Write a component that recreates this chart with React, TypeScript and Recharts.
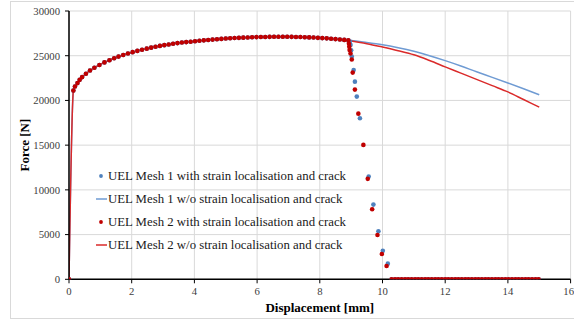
import React from 'react';
import { LineChart, Line, XAxis, YAxis, CartesianGrid } from 'recharts';

// Shared loading branch (all four analyses coincide up to ~8.9 mm)
const risingDisp = [
  0, 0.14, 0.19, 0.27, 0.34, 0.42, 0.54, 0.67, 0.81, 0.97, 1.13, 1.29, 1.44, 1.58, 1.73, 1.88,
  2.03, 2.18, 2.33, 2.48, 2.62, 2.76, 2.9, 3.04, 3.18, 3.32, 3.46, 3.6, 3.74, 3.88, 4.02, 4.16,
  4.3, 4.44, 4.58, 4.72, 4.86, 5.0, 5.14, 5.28, 5.42, 5.56, 5.7, 5.84, 5.98, 6.12, 6.26, 6.4,
  6.54, 6.68, 6.82, 6.96, 7.1, 7.24, 7.38, 7.52, 7.66, 7.8, 7.94, 8.08, 8.22, 8.36, 8.5, 8.64,
  8.78, 8.91,
];
const risingForce = [
  0, 21100, 21560, 21940, 22300, 22610, 22980, 23350, 23650, 23960, 24250, 24500, 24720, 24900, 25080, 25250,
  25400, 25540, 25670, 25790, 25900, 26000, 26100, 26180, 26260, 26340, 26410, 26470, 26520, 26570, 26620, 26670,
  26720, 26760, 26800, 26840, 26880, 26920, 26950, 26980, 27000, 27020, 27040, 27060, 27080, 27090, 27100, 27110,
  27120, 27120, 27120, 27120, 27110, 27100, 27090, 27070, 27050, 27030, 27000, 26970, 26940, 26900, 26860, 26820,
  26770, 26710,
];

// Mesh 1 with strain localisation and crack: drop
const mesh1DropDisp = [8.96, 8.98, 9.0, 9.02, 9.08, 9.12, 9.18, 9.28, 9.56, 9.71, 9.87, 10.01, 10.17];
const mesh1DropForce = [26580, 26210, 25600, 24900, 23410, 22100, 20430, 18010, 11490, 8350, 5370, 3200, 1750];

// Mesh 2 with strain localisation and crack: drop
const mesh2DropDisp = [8.93, 8.94, 8.95, 8.98, 9.02, 9.05, 9.12, 9.23, 9.39, 9.53, 9.67, 9.84, 9.98, 10.13];
const mesh2DropForce = [26340, 26000, 25630, 25250, 24570, 23110, 21210, 18520, 15030, 11230, 7840, 4960, 2830, 1490];

// After full fracture
const crackTailDisp = [
  10.29, 10.4, 10.5, 10.61, 10.72, 10.82, 10.93, 11.04, 11.14, 11.25, 11.36, 11.46, 11.57, 11.68, 11.78,
  11.89, 12.0, 12.1, 12.21, 12.32, 12.42, 12.53, 12.64, 12.74, 12.85, 12.96, 13.06, 13.17, 13.28, 13.38,
  13.49, 13.6, 13.7, 13.81, 13.92, 14.02, 14.13, 14.24, 14.34, 14.45, 14.56, 14.66, 14.77, 14.88, 14.98,
];
const crackTailForce = [
  0, 0, 0, 0, 0, 0, 0, 0, 0, 0, 0, 0, 0, 0, 0,
  0, 0, 0, 0, 0, 0, 0, 0, 0, 0, 0, 0, 0, 0, 0,
  0, 0, 0, 0, 0, 0, 0, 0, 0, 0, 0, 0, 0, 0, 0,
];

// w/o strain localisation and crack: softening tails
const noCrackTailDisp = [9.0, 9.5, 10.0, 10.5, 11.0, 11.5, 12.0, 12.5, 13.0, 13.5, 14.0, 14.5, 15.0];
const mesh1NoCrackTailForce = [26690, 26480, 26230, 25900, 25500, 25000, 24450, 23850, 23200, 22580, 21950, 21300, 20630];
const mesh2NoCrackTailForce = [26650, 26350, 25970, 25560, 25100, 24460, 23750, 23050, 22350, 21650, 20950, 20100, 19250];

const xTicks = [0, 2, 4, 6, 8, 10, 12, 14, 16];
const yTicks = [0, 5000, 10000, 15000, 20000, 25000, 30000];

const seriesNames = [
  'UEL Mesh 1 with strain localisation and crack',
  'UEL Mesh 1 w/o strain localisation and crack',
  'UEL Mesh 2 with strain localisation and crack',
  'UEL Mesh 2 w/o strain localisation and crack',
];

const toPoints = (xs: number[], ys: number[]) => xs.map((x, i) => ({ x, y: ys[i] }));

const mesh1Crack = toPoints(
  [...risingDisp, ...mesh1DropDisp, ...crackTailDisp],
  [...risingForce, ...mesh1DropForce, ...crackTailForce]
);
const mesh2Crack = toPoints(
  [...risingDisp, ...mesh2DropDisp, ...crackTailDisp],
  [...risingForce, ...mesh2DropForce, ...crackTailForce]
);
const mesh1NoCrack = toPoints([...risingDisp, ...noCrackTailDisp], [...risingForce, ...mesh1NoCrackTailForce]);
const mesh2NoCrack = toPoints([...risingDisp, ...noCrackTailDisp], [...risingForce, ...mesh2NoCrackTailForce]);

const BLUE_DOT = '#4F81BD';
const BLUE_LINE = '#6F9BD3';
const RED_DOT = '#C00000';
const RED_LINE = '#DA2A2A';
const FONT = '"Liberation Serif", "Times New Roman", serif';

const legendItems = [
  { name: seriesNames[0], color: BLUE_DOT, kind: 'dot' },
  { name: seriesNames[1], color: BLUE_LINE, kind: 'line' },
  { name: seriesNames[2], color: RED_DOT, kind: 'dot' },
  { name: seriesNames[3], color: RED_LINE, kind: 'line' },
];

const ChartLegend = () => (
  <div
    style={{
      position: 'absolute',
      left: 95,
      top: 164.5,
      fontFamily: FONT,
      fontSize: 12.8,
      color: '#1a1a1a',
      pointerEvents: 'none',
    }}
  >
    {legendItems.map((it) => (
      <div key={it.name} style={{ display: 'flex', alignItems: 'center', height: 23, whiteSpace: 'nowrap' }}>
        <svg width={12} height={10} style={{ marginRight: 1 }}>
          {it.kind === 'dot' ? (
            <circle cx={6} cy={5} r={1.9} fill={it.color} />
          ) : (
            <line x1={1} y1={5} x2={12} y2={5} stroke={it.color} strokeWidth={1.5} />
          )}
        </svg>
        <span>{it.name}</span>
      </div>
    ))}
  </div>
);

const YTitle = (props: any) => {
  const vb = props.viewBox || {};
  const cy = (vb.y || 0) + (vb.height || 0) / 2;
  const cx = 25;
  return (
    <text
      x={cx}
      y={cy}
      transform={`rotate(-90, ${cx}, ${cy})`}
      textAnchor="middle"
      dominantBaseline="central"
      fontFamily={FONT}
      fontSize={13}
      fontWeight="bold"
      fill="#000"
    >
      Force [N]
    </text>
  );
};

const tickStyle = { fontFamily: FONT, fontSize: 10.7, fill: '#404040' };

export default function App() {
  return (
    <div
      style={{
        position: 'absolute',
        left: 0,
        top: 0,
        width: 574,
        height: 322,
        background: '#fff',
        fontFamily: FONT,
      }}
    >
      <div
        style={{
          position: 'absolute',
          left: 10,
          top: 1,
          width: 580,
          height: 318,
          border: '1px solid #d9d9d9',
          boxSizing: 'border-box',
        }}
      />
      <div style={{ position: 'absolute', left: 0, top: 0 }}>
        <LineChart
          width={574}
          height={322}
          margin={{ top: 11, right: 3.4, bottom: 8.7, left: 0 }}
          style={{ fontFamily: FONT }}
        >
          <CartesianGrid stroke="#d9d9d9" strokeWidth={1} />
          <XAxis
            type="number"
            dataKey="x"
            domain={[0, 16]}
            ticks={xTicks}
            allowDataOverflow
            height={34}
            tickSize={4}
            tickMargin={4}
            axisLine={{ stroke: '#000', strokeWidth: 1.5 }}
            tickLine={{ stroke: '#000' }}
            tick={tickStyle}
            fontFamily={FONT}
            label={{
              value: 'Displacement [mm]',
              position: 'insideBottom',
              offset: 1,
              fontFamily: FONT,
              style: { fontFamily: FONT, fontSize: 13, fontWeight: 'bold', fill: '#000' },
            }}
          />
          <YAxis
            type="number"
            domain={[0, 30000]}
            ticks={yTicks}
            allowDataOverflow
            width={69}
            tickSize={4}
            tickMargin={5}
            axisLine={{ stroke: '#000', strokeWidth: 1.5 }}
            tickLine={{ stroke: '#000' }}
            tick={tickStyle}
            fontFamily={FONT}
            label={{ content: YTitle }}
          />
          <Line
            data={mesh1NoCrack}
            dataKey="y"
            name={seriesNames[1]}
            type="monotone"
            stroke={BLUE_LINE}
            strokeWidth={1.5}
            dot={false}
            activeDot={false}
            isAnimationActive={false}
          />
          <Line
            data={mesh2NoCrack}
            dataKey="y"
            name={seriesNames[3]}
            type="monotone"
            stroke={RED_LINE}
            strokeWidth={1.5}
            dot={false}
            activeDot={false}
            isAnimationActive={false}
          />
          <Line
            data={mesh1Crack}
            dataKey="y"
            name={seriesNames[0]}
            stroke="none"
            dot={{ r: 2.3, fill: BLUE_DOT, stroke: 'none' }}
            activeDot={false}
            isAnimationActive={false}
          />
          <Line
            data={mesh2Crack}
            dataKey="y"
            name={seriesNames[2]}
            stroke="none"
            dot={{ r: 2.3, fill: RED_DOT, stroke: 'none' }}
            activeDot={false}
            isAnimationActive={false}
          />
        </LineChart>
      </div>
      <ChartLegend />
    </div>
  );
}
